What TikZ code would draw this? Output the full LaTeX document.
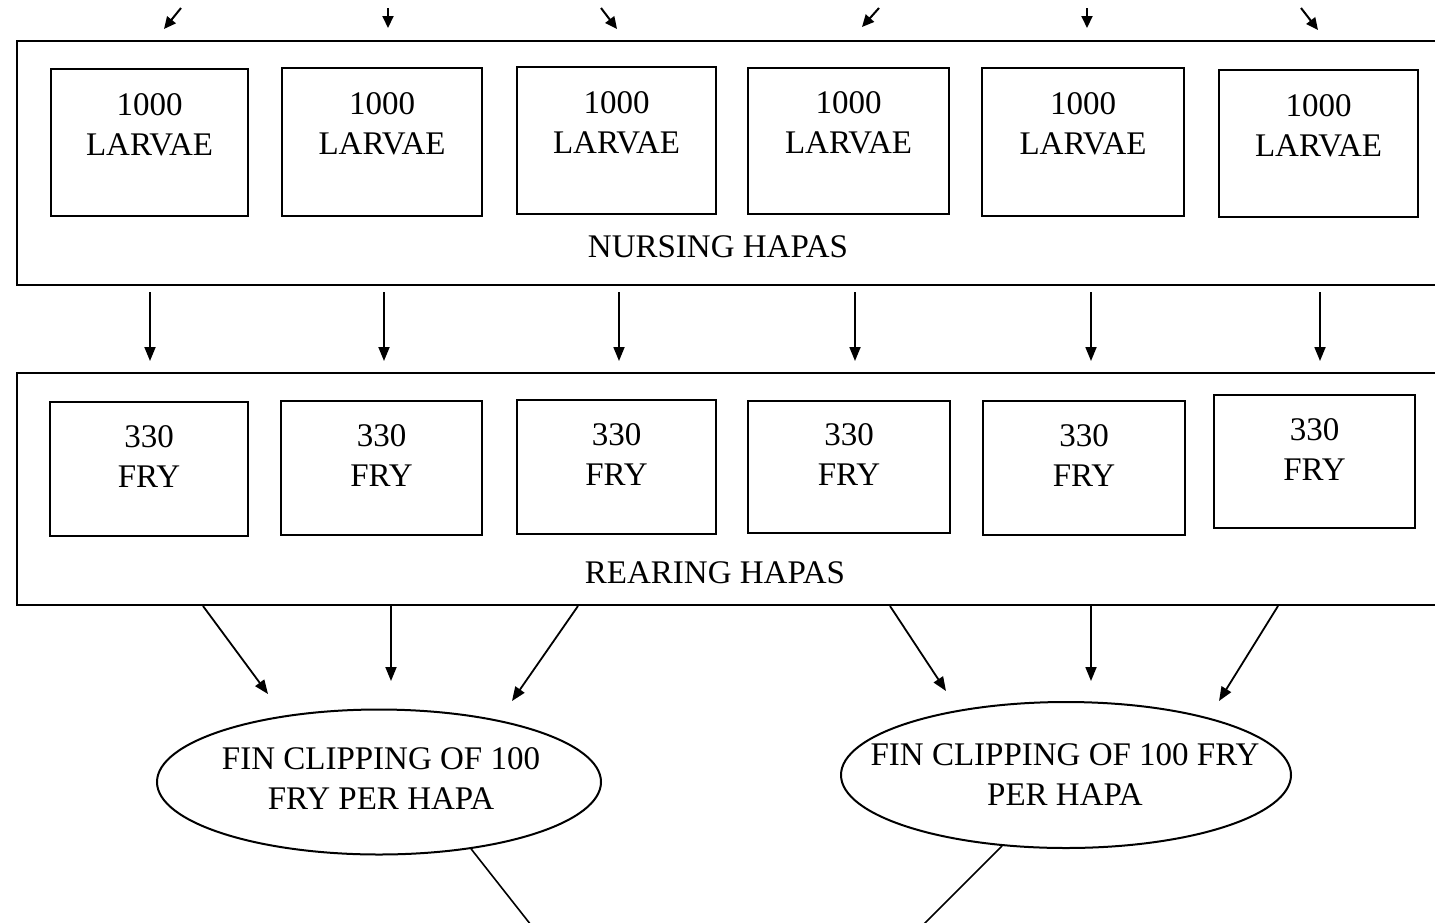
\documentclass[tikz,border=0pt]{standalone}
\usepackage{fontspec}
\setmainfont{Liberation Serif}
\usetikzlibrary{arrows.meta,shapes.geometric}
\begin{document}
\begin{tikzpicture}[x=1pt,y=-1pt,
  outer/.style={draw,line width=2.6pt,inner sep=0pt},
  hapa/.style={draw,line width=2pt,inner sep=0pt},
  txt/.style={font=\fontsize{33}{40}\selectfont,align=center,inner sep=0pt},
  arr/.style={line width=1.8pt,-{Triangle[length=14pt,width=11pt]}},
  tarr/.style={line width=2pt,-{Triangle[length=12pt,width=11pt]}},
  oval/.style={draw,ellipse,line width=2pt,inner sep=0pt},
  lead/.style={line width=1.6pt}]
\useasboundingbox (0,0) rectangle (1435,922);
\clip (0,0) rectangle (1435,922);
% outer hapa groups
\node[outer,minimum width=1423pt,minimum height=244pt] (nurse) at (728.5,163) {};
\node[outer,minimum width=1423pt,minimum height=232pt] (rear) at (728.5,489) {};
\node[txt] (nursetxt) at (718,247) {NURSING HAPAS};
\node[txt] (reartxt) at (715,573) {REARING HAPAS};
% nursing boxes
\foreach \n/\x/\y/\w/\h in {1/149.5/142.5/197/147, 2/382/142/200/148, 3/616.5/140.5/199/147,
    4/848.5/141/201/146, 5/1083/142/202/148, 6/1318.5/143.5/199/147}{
  \node[hapa,minimum width=\w pt,minimum height=\h pt] (n\n) at (\x,\y) {};
  \node[txt] (nt\n) at ([yshift=18pt]n\n.center) {1000\\LARVAE};
}
% rearing boxes
\foreach \n/\x/\y/\w/\h in {1/149/469/198/134, 2/381.5/468/201/134, 3/616.5/467/199/134,
    4/849/467/202/132, 5/1084/468/202/134, 6/1314.5/461.5/201/133}{
  \node[hapa,minimum width=\w pt,minimum height=\h pt] (r\n) at (\x,\y) {};
  \node[txt] (rt\n) at ([yshift=12pt]r\n.center) {330\\FRY};
}
% ellipses
\node[oval,minimum width=444pt,minimum height=145pt] (e1) at (379,782) {};
\node[txt] (e1t) at (381,779) {FIN CLIPPING OF 100\\FRY PER HAPA};
\node[oval,minimum width=450pt,minimum height=146pt] (e2) at (1066,775) {};
\node[txt] (e2t) at (1065,775) {FIN CLIPPING OF 100 FRY\\PER HAPA};
% top incoming arrows
\foreach \n/\xa/\ya/\xb/\yb in {1/181/8/164/29, 2/388/8/388/28, 3/601/8/617/29,
    4/879/8/862/27, 5/1087/8/1087/28, 6/1301/8/1318/30}{
  \coordinate (ts\n) at (\xa,\ya);
  \coordinate (te\n) at (\xb,\yb);
  \draw[tarr] (ts\n) -- (te\n);
}
% nursing -> rearing arrows
\foreach \n/\x in {1/150, 2/384, 3/619, 4/855, 5/1091, 6/1320}{
  \coordinate (ms\n) at (\x,292);
  \coordinate (me\n) at (\x,361);
  \draw[arr] (ms\n) -- (me\n);
}
% rearing -> ellipses
\foreach \n/\xa/\xb/\yb in {1/203/268/694, 2/391/391/681, 3/578/512/701,
    4/890/946/691, 5/1091/1091/681, 6/1278/1219/701}{
  \coordinate (bs\n) at (\xa,606);
  \coordinate (be\n) at (\xb,\yb);
  \draw[arr] (bs\n) -- (be\n);
}
% leads out of the ellipses
\coordinate (l1) at (531,925);
\coordinate (l2) at (923,925);
\draw[lead] (e1.-36) -- (l1);
\draw[lead] (e2.-132.5) -- (l2);
\end{tikzpicture}
\end{document}
